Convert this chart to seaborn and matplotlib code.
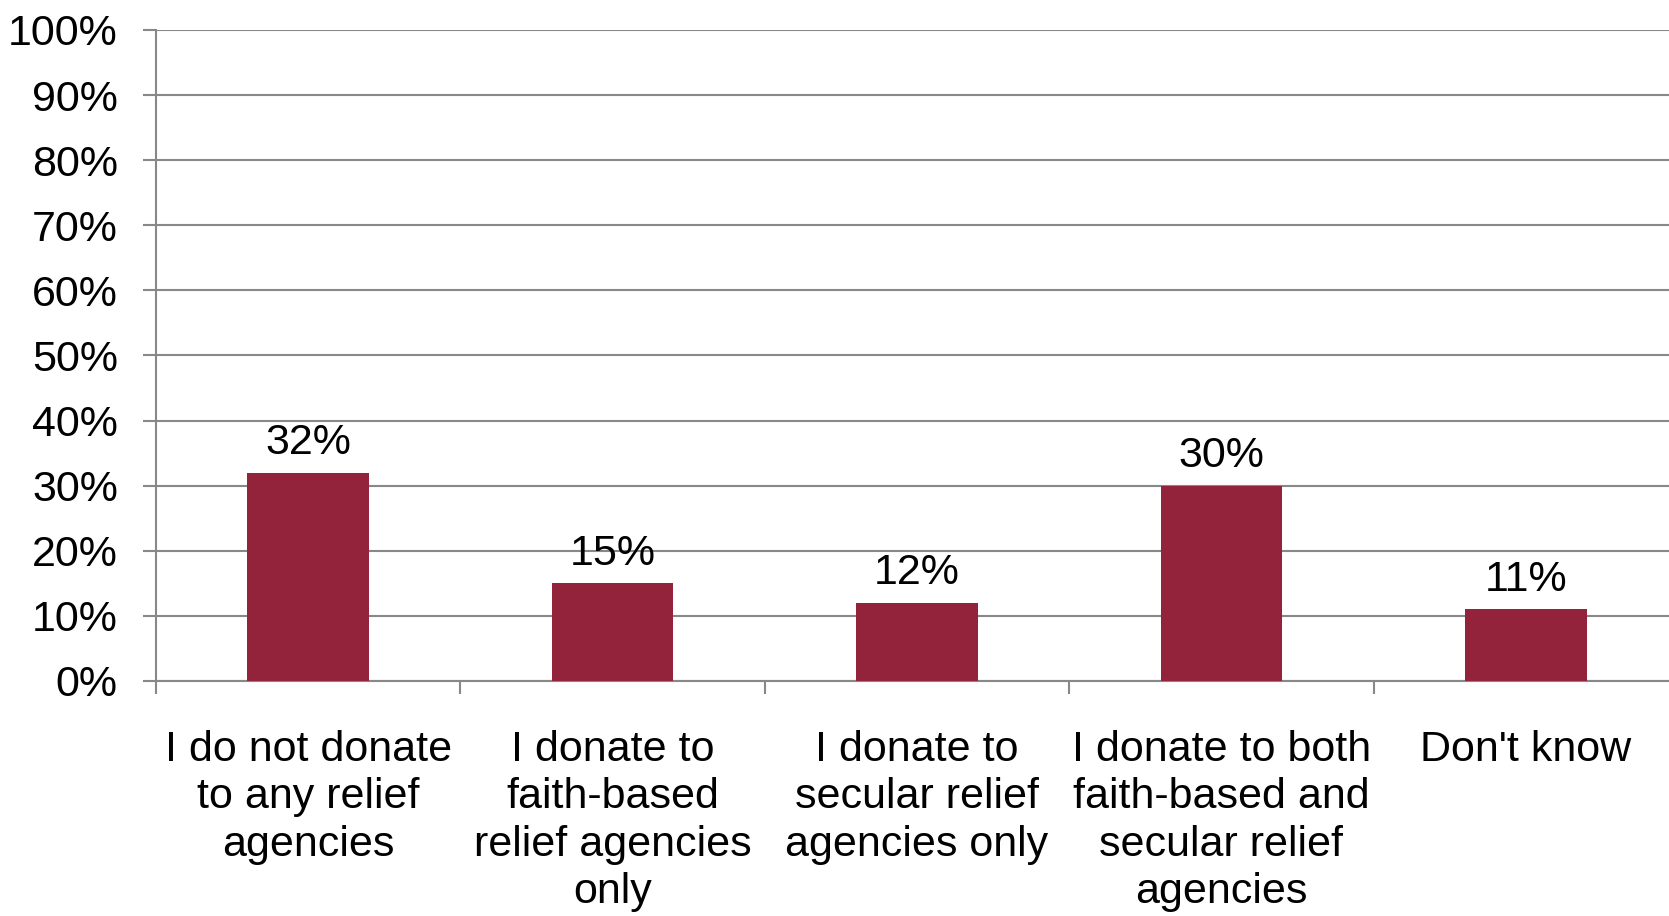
import matplotlib
matplotlib.use("Agg")
import matplotlib.pyplot as plt
import seaborn as sns
import pandas as pd

categories = [
    "I do not donate\nto any relief\nagencies",
    "I donate to\nfaith-based\nrelief agencies\nonly",
    "I donate to\nsecular relief\nagencies only",
    "I donate to both\nfaith-based and\nsecular relief\nagencies",
    "Don't know",
]
values = [32, 15, 12, 30, 11]
value_labels = ["32%", "15%", "12%", "30%", "11%"]
yticks = [0, 10, 20, 30, 40, 50, 60, 70, 80, 90, 100]
ytick_labels = [f"{t}%" for t in yticks]

sns.set_theme(style="white")
plt.rcParams['font.family'] = ['Liberation Sans', 'DejaVu Sans']

FS = 31
W, H = 1669, 916
fig = plt.figure(figsize=(W / 100, H / 100), dpi=100)
ax = fig.add_axes([156 / W, (H - 681) / H, 1522 / W, 651 / H])

df = pd.DataFrame({"cat": categories, "val": values})
sns.barplot(data=df, x="cat", y="val", color="#92233A", saturation=1,
            width=0.4, ax=ax, zorder=3, linewidth=0, edgecolor="none")

grid_c = "#888888"
ax.set_ylim(0, 100)
ax.set_xlim(-0.5, len(categories) - 0.5)
ax.set_yticks(yticks)
ax.set_yticklabels(ytick_labels)
ax.yaxis.grid(True, color=grid_c, linewidth=1.5, zorder=0)
ax.set_axisbelow(True)

# x ticks at category boundaries
ax.set_xticks([i - 0.5 for i in range(len(categories) + 1)], minor=False)
ax.set_xticklabels([""] * (len(categories) + 1))
ax.set_xticks(range(len(categories)), minor=True)
ax.set_xticklabels(categories, minor=True, fontsize=FS, linespacing=1.245)
ax.tick_params(axis="x", which="minor", length=0, pad=35, bottom=True, labelcolor="black")
ax.tick_params(axis="x", which="major", length=9, width=1.5, color=grid_c,
               direction="out", bottom=True)
ax.tick_params(axis="y", length=9.5, width=1.5, color=grid_c, direction="out",
               pad=18, labelsize=FS, left=True, labelcolor="black")

for s in ["top", "right"]:
    ax.spines[s].set_visible(False)
for s in ["left", "bottom"]:
    ax.spines[s].set_color(grid_c)
    ax.spines[s].set_linewidth(1.5)

ax.bar_label(ax.containers[0], labels=value_labels, padding=7, fontsize=FS, color="black")

ax.set_xlabel("")
ax.set_ylabel("")
fig.savefig("out.png", dpi=100)
